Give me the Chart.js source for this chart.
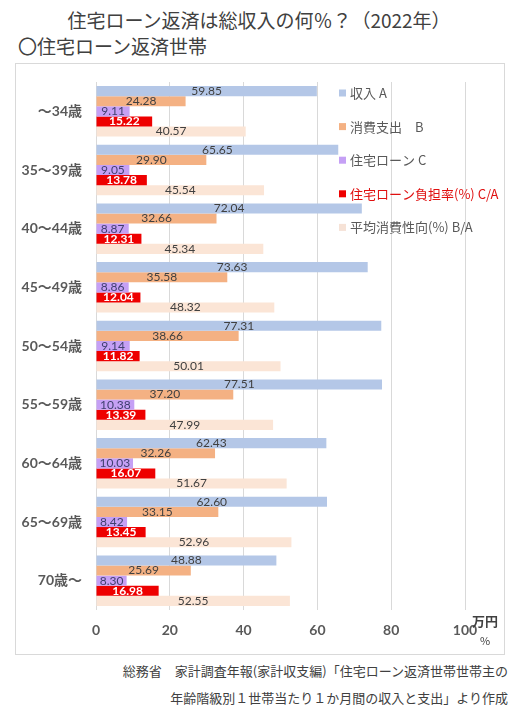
<!DOCTYPE html>
<html>
<head>
<meta charset="utf-8">
<script src="https://cdn.jsdelivr.net/npm/chart.js@4"></script>
<style>
  body { margin: 0; background: #fff; font-family: 'Noto Sans CJK JP', sans-serif; color: #404040; }
  #page { position: relative; width: 527px; height: 713px; overflow: hidden; }
  .txt { position: absolute; white-space: nowrap; }
  #titulo { left: 0; width: 518px; top: 6px; text-align: center; font-size: 19px; }
  #subtitulo { left: 18px; top: 32px; font-size: 19px; }
  #caixa { position: absolute; left: 15px; top: 63px; width: 490px; height: 592px; border: 1px solid #d9d9d9; box-sizing: border-box; }
  #fonte1 { right: 19px; top: 661px; font-size: 13px; }
  #fonte2 { right: 19px; top: 688px; font-size: 13px; }
</style>
</head>
<body>
<div id="page">
  <div class="txt" id="titulo">住宅ローン返済は総収入の何％？（2022年）</div>
  <div class="txt" id="subtitulo">〇住宅ローン返済世帯</div>
  <div id="caixa"><canvas id="grafico"></canvas></div>
  <div class="txt" id="fonte1">総務省　家計調査年報(家計収支編)「住宅ローン返済世帯世帯主の</div>
  <div class="txt" id="fonte2">年齢階級別１世帯当たり１か月間の収入と支出」より作成</div>
</div>
<script>
const faixas = ['～34歳', '35～39歳', '40～44歳', '45～49歳', '50～54歳', '55～59歳', '60～64歳', '65～69歳', '70歳～'];
const renda = [59.85, 65.65, 72.04, 73.63, 77.31, 77.51, 62.43, 62.60, 48.88];
const consumo = [24.28, 29.90, 32.66, 35.58, 38.66, 37.20, 32.26, 33.15, 25.69];
const emprestimo = [9.11, 9.05, 8.87, 8.86, 9.14, 10.38, 10.03, 8.42, 8.30];
const taxaEmprestimo = [15.22, 13.78, 12.31, 12.04, 11.82, 13.39, 16.07, 13.45, 16.98];
const propensao = [40.57, 45.54, 45.34, 48.32, 50.01, 47.99, 51.67, 52.96, 52.55];
const ticksX = [0, 20, 40, 60, 80, 100];

const series = [
  { label: '収入 A', data: renda, cor: '#b4c7e7', corTexto: '#404040', corLegenda: '#595959', negrito: false },
  { label: '消費支出　B', data: consumo, cor: '#f4b183', corTexto: '#404040', corLegenda: '#595959', negrito: false },
  { label: '住宅ローン C', data: emprestimo, cor: '#c5a0f5', corTexto: '#3f3f6f', corLegenda: '#595959', negrito: false },
  { label: '住宅ローン負担率(%) C/A', data: taxaEmprestimo, cor: '#ee0000', corTexto: '#ffffff', corLegenda: '#e01010', negrito: true },
  { label: '平均消費性向(%) B/A', data: propensao, cor: '#fbe5d6', corTexto: '#404040', corLegenda: '#595959', negrito: false }
];

// rótulos no centro de cada barra
const rotulosPlugin = {
  id: 'rotulos',
  afterDatasetsDraw(chart) {
    const ctx = chart.ctx;
    ctx.save();
    ctx.textAlign = 'center';
    ctx.textBaseline = 'middle';
    chart.data.datasets.forEach((ds, i) => {
      const meta = chart.getDatasetMeta(i);
      const s = series[i];
      ctx.font = (s.negrito ? 'bold ' : '') + '12px Lato, "Open Sans", sans-serif';
      ctx.fillStyle = s.corTexto;
      meta.data.forEach((bar, j) => {
        const cx = (bar.x + bar.base) / 2;
        ctx.fillText(ds.data[j].toFixed(2), cx, bar.y);
      });
    });
    ctx.restore();
  }
};

// legenda e unidades desenhadas à mão
const legendaPlugin = {
  id: 'legendaManual',
  afterDraw(chart) {
    const ctx = chart.ctx;
    const area = chart.chartArea;
    ctx.save();
    ctx.textBaseline = 'middle';
    ctx.textAlign = 'left';
    ctx.font = '13px "Noto Sans CJK JP", sans-serif';
    series.forEach((s, i) => {
      const y = area.top + 11 + i * 33.6;
      const x = area.left + 243;
      ctx.fillStyle = s.cor === '#fbe5d6' ? '#f6e2d6' : s.cor;
      ctx.fillRect(x, y - 3.5, 7, 7);
      ctx.fillStyle = s.corLegenda;
      ctx.fillText(s.label, x + 11, y);
    });
    ctx.fillStyle = '#404040';
    ctx.font = 'bold 13px "Noto Sans CJK JP", sans-serif';
    ctx.fillText('万円', area.right + 7, area.bottom + 11);
    ctx.font = '11px "Noto Sans CJK JP", sans-serif';
    ctx.fillText('%', area.right + 15, area.bottom + 31);
    ctx.restore();
  }
};

const ctx = document.getElementById('grafico').getContext('2d');
new Chart(ctx, {
  type: 'bar',
  data: {
    labels: faixas,
    datasets: series.map(s => ({
      label: s.label,
      data: s.data,
      backgroundColor: s.cor,
      borderWidth: 0,
      barPercentage: 1.0,
      categoryPercentage: 0.86
    }))
  },
  options: {
    indexAxis: 'y',
    responsive: true,
    maintainAspectRatio: false,
    animation: false,
    layout: { padding: { top: 18, right: 39, bottom: 0, left: 0 } },
    plugins: {
      legend: { display: false },
      title: { display: false },
      tooltip: { enabled: false }
    },
    scales: {
      x: {
        min: 0,
        max: 100,
        afterBuildTicks(scale) {
          scale.ticks = ticksX.map(v => ({ value: v }));
        },
        afterFit(scale) { scale.height = 44; },
        grid: { color: '#d9d9d9', drawTicks: false, lineWidth: 1 },
        border: { display: false },
        ticks: {
          padding: 12,
          color: '#595959',
          font: { family: 'Lato, "Open Sans", sans-serif', size: 14, weight: 'bold' }
        }
      },
      y: {
        afterFit(scale) {
          scale.width = 80;
          scale.paddingTop = 0;
          scale.paddingBottom = 0;
        },
        grid: { display: false, drawTicks: false },
        border: { display: false },
        ticks: {
          padding: 14,
          color: '#595959',
          font: { family: 'Lato, "Noto Sans CJK JP", sans-serif', size: 14, weight: 'bold' }
        }
      }
    }
  },
  plugins: [rotulosPlugin, legendaPlugin]
});
</script>
</body>
</html>
